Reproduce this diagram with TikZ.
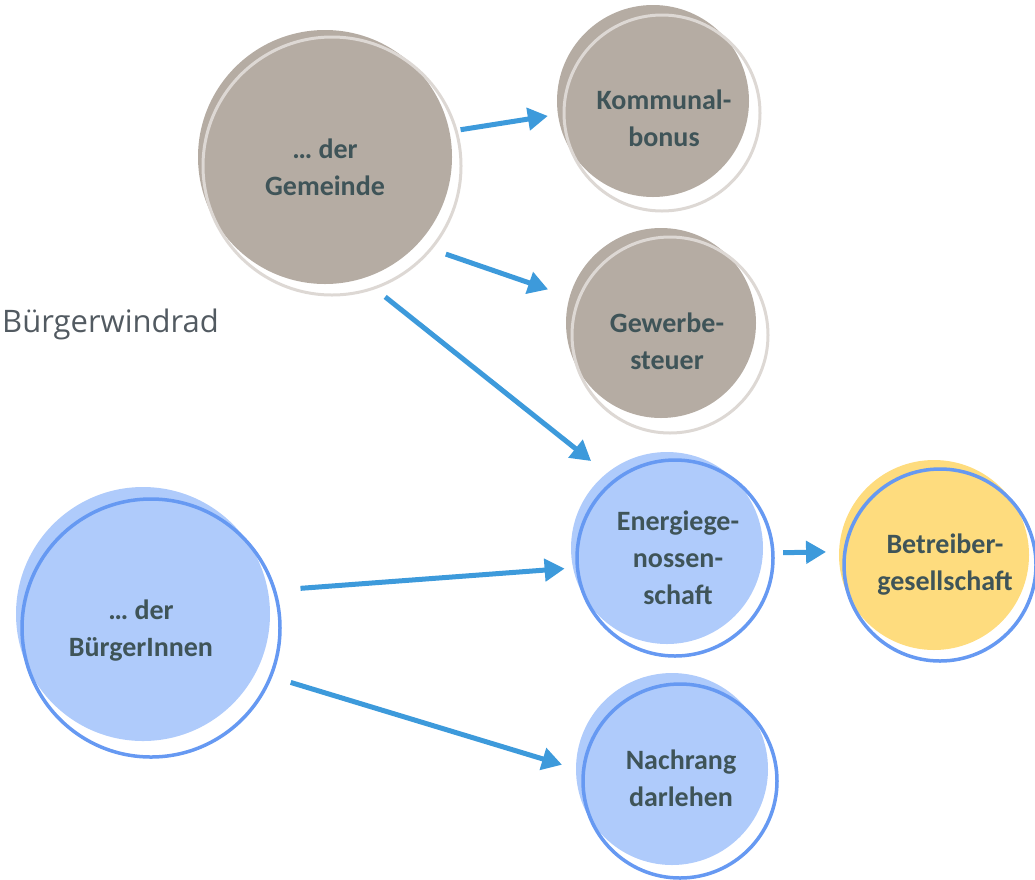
\documentclass[tikz,border=0pt]{standalone}
\usepackage{fontspec}
\setmainfont{Carlito}
\newfontfamily\titlefont{Open Sans}
\usetikzlibrary{arrows.meta}
\definecolor{taupe}{HTML}{B5ACA3}
\definecolor{taupering}{HTML}{DDD8D4}
\definecolor{skyfill}{HTML}{AFCBFB}
\definecolor{skyring}{HTML}{6699F2}
\definecolor{sunfill}{HTML}{FEDC7E}
\definecolor{slate}{HTML}{3F5458}
\definecolor{arrowblue}{HTML}{3D9ADB}
\definecolor{titlegrey}{HTML}{525A61}

\begin{document}
\begin{tikzpicture}[x=1pt, y=-1pt]
        \tikzset{bubble/.style = {shape=circle, inner sep=0pt, outer sep=0pt}}
        \tikzset{ring/.style = {shape=circle, draw, line width=3pt, inner sep=0pt, outer sep=0pt}}
        \tikzset{caption/.style = {inner sep=0pt, text=slate, align=center, font=\bfseries\fontsize{28}{37}\selectfont}}
        \tikzset{edge/.style = {-{Triangle[length=20pt, width=22pt]}, line width=5pt, draw=arrowblue}}
        \useasboundingbox (0,0) rectangle (1035,879);
        \node[anchor=base west, inner sep=0pt, text=titlegrey, font=\titlefont\fontsize{31}{36}\selectfont] (title) at (2,332) {Bürgerwindrad};
        \node[bubble, fill=taupe, minimum size=254pt] (gemeinde) at (325,157) {};
        \node[ring, draw=taupering, minimum size=258pt] (gemeinde-ring) at (332,166) {};
        \node[caption] (gemeinde-text) at (325,167) {… der\\Gemeinde};
        \node[bubble, fill=taupe, minimum size=192pt] (kommunal) at (653,101) {};
        \node[ring, draw=taupering, minimum size=196pt] (kommunal-ring) at (662,113) {};
        \node[caption] (kommunal-text) at (664,118) {Kommunal-\\bonus};
        \node[bubble, fill=taupe, minimum size=190pt] (gewerbe) at (661,323) {};
        \node[ring, draw=taupering, minimum size=196pt] (gewerbe-ring) at (670,335) {};
        \node[caption] (gewerbe-text) at (667,341) {Gewerbe-\\steuer};
        \node[bubble, fill=skyfill, minimum size=254pt] (buerger) at (143,614) {};
        \node[ring, draw=skyring, line width=3.5pt, minimum size=258pt] (buerger-ring) at (151,628) {};
        \node[caption] (buerger-text) at (141,631) {… der\\BürgerInnen};
        \node[bubble, fill=skyfill, minimum size=192pt] (energie) at (667,548) {};
        \node[ring, draw=skyring, line width=3.5pt, minimum size=196pt] (energie-ring) at (675,558) {};
        \node[caption] (energie-text) at (678,558) {Energiege-\\nossen-\\schaft};
        \node[bubble, fill=sunfill, minimum size=190pt] (betreiber) at (934,555) {};
        \node[ring, draw=skyring, line width=3.5pt, minimum size=192pt] (betreiber-ring) at (940,565) {};
        \node[caption] (betreiber-text) at (945,565) {Betreiber-\\gesellschaft};
        \node[bubble, fill=skyfill, minimum size=192pt] (nachrang) at (672,769) {};
        \node[ring, draw=skyring, line width=3.5pt, minimum size=194pt] (nachrang-ring) at (680,781) {};
        \node[caption] (nachrang-text) at (681,778) {Nachrang\\darlehen};
        \draw[edge, shorten <=4.6pt, shorten >=10.2pt] (gemeinde-ring.16.9) -- (kommunal.188.8);
        \draw[edge, shorten <=15.9pt, shorten >=22.8pt] (gemeinde-ring.-40.6) -- (gewerbe.164.3);
        \draw[edge, shorten <=14.3pt, shorten >=19.8pt] (gemeinde-ring.-71) -- (energie.129.9);
        \draw[edge, shorten <=26.2pt, shorten >=8.5pt] (buerger-ring.17.7) -- (energie.192.9);
        \draw[edge, shorten <=21pt, shorten >=14.6pt] (buerger-ring.-22.8) -- (nachrang.180);
        \draw[edge, shorten <=10.2pt, shorten >=13pt] (energie-ring.3.5) -- (betreiber.178.2);
\end{tikzpicture}
\end{document}
